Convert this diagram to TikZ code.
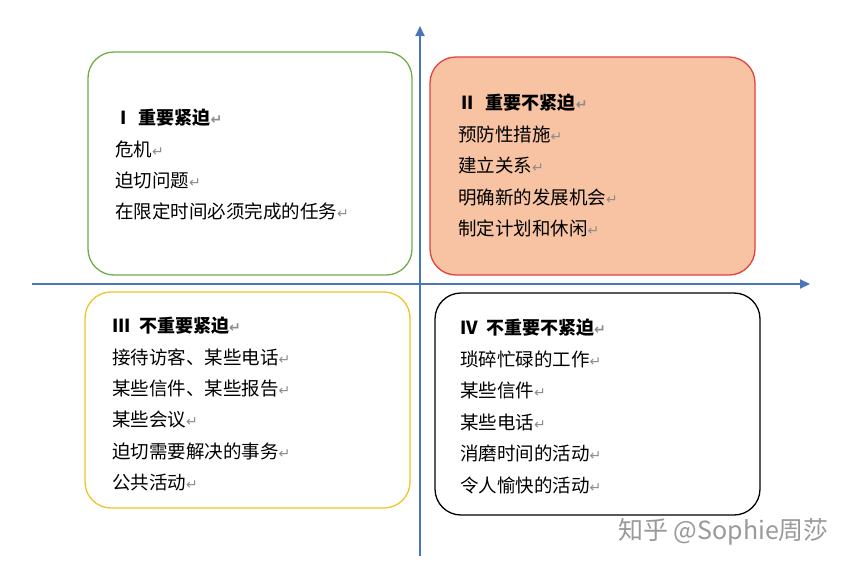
\documentclass[tikz,border=0pt]{standalone}
\usepackage{fontspec}
\setmainfont{Noto Sans CJK SC}
\newfontfamily\dvs{DejaVu Sans}
\usetikzlibrary{arrows.meta}
\definecolor{axisblue}{HTML}{4A76B8}
\definecolor{retgray}{HTML}{8C8C8C}
\definecolor{cgreen}{HTML}{70AD47}
\definecolor{cred}{HTML}{E0433A}
\definecolor{cfill}{HTML}{F7C3A3}
\definecolor{cyel}{HTML}{F2C22E}
\definecolor{wmgray}{HTML}{9A9A9A}
\newcommand{\rt}{{\dvs\color{retgray}\fontsize{14}{14}\selectfont ↵}}
\tikzset{
  quad/.style={rounded corners=26pt, line width=1.3pt},
  txt/.style={anchor=west, font=\fontsize{18.5}{20}\selectfont, inner sep=0pt},
  ttl/.style={txt, font=\fontsize{18}{20}\selectfont\bfseries},
}
\begin{document}
\begin{tikzpicture}[x=1pt,y=-1pt]
\useasboundingbox (0,0) rectangle (856,568);
\fill[white] (0,0) rectangle (856,568);
\draw[quad, draw=cgreen] (88,52) rectangle (412,275);
\draw[quad, draw=cred, fill=cfill] (430,57) rectangle (755,275);
\draw[quad, draw=cyel] (85,292) rectangle (410,508);
\draw[quad, draw=black] (435,293) rectangle (760,515);
\coordinate (vb) at (420,556); \coordinate (vt) at (420,26);
\coordinate (hl) at (32,284); \coordinate (hr) at (810,284);
\draw[axisblue, line width=2pt, -{Triangle[length=10pt,width=9pt]}] (vb) -- (vt);
\draw[axisblue, line width=2pt, -{Triangle[length=10pt,width=9pt]}] (hl) -- (hr);
% I
\node[ttl] (a0) at (120,118) {I\hspace{12pt}重要紧迫\rt};
\node[txt] (a1) at (115,149) {危机\rt};
\node[txt] (a2) at (115,180) {迫切问题\rt};
\node[txt] (a3) at (115,211) {在限定时间必须完成的任务\rt};
% II
\node[ttl] (b0) at (461,103) {II\hspace{12pt}重要不紧迫\rt};
\node[txt] (b1) at (458,134) {预防性措施\rt};
\node[txt] (b2) at (458,165) {建立关系\rt};
\node[txt] (b3) at (458,197) {明确新的发展机会\rt};
\node[txt] (b4) at (458,228) {制定计划和休闲\rt};
% III
\node[ttl] (c0) at (112,326) {III\hspace{8pt}不重要紧迫\rt};
\node[txt] (c1) at (112,357) {接待访客、某些电话\rt};
\node[txt] (c2) at (112,389) {某些信件、某些报告\rt};
\node[txt] (c3) at (112,420) {某些会议\rt};
\node[txt] (c4) at (112,451) {迫切需要解决的事务\rt};
\node[txt] (c5) at (112,483) {公共活动\rt};
% IV
\node[ttl] (d0) at (460,328) {IV\hspace{8pt}不重要不紧迫\rt};
\node[txt] (d1) at (460,359) {琐碎忙碌的工作\rt};
\node[txt] (d2) at (460,390) {某些信件\rt};
\node[txt] (d3) at (460,422) {某些电话\rt};
\node[txt] (d4) at (460,453) {消磨时间的活动\rt};
\node[txt] (d5) at (460,485) {令人愉快的活动\rt};
\node[anchor=west, inner sep=0pt, text=wmgray, font=\fontsize{25}{26}\selectfont] (wm) at (618,532) {知乎 @Sophie周莎};
\end{tikzpicture}
\end{document}
